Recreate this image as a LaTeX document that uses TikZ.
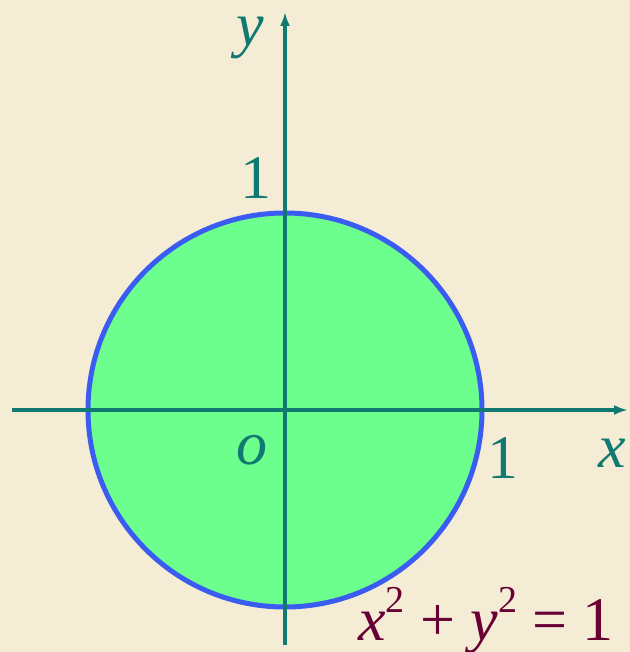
\documentclass[tikz,border=0pt]{standalone}
\usepackage{fontspec}
\setmainfont{Liberation Serif}
\usetikzlibrary{arrows.meta,positioning}
\definecolor{paper}{RGB}{245,236,214}
\definecolor{axisteal}{RGB}{16,122,114}
\definecolor{rimblue}{RGB}{58,92,240}
\definecolor{diskgreen}{RGB}{108,255,142}
\definecolor{eqplum}{RGB}{105,0,52}
\newcommand{\sqr}{\raisebox{0.45em}{\fontsize{19}{19}\selectfont 2}}

\begin{document}
\begin{tikzpicture}[
  x=0.5pt, y=-0.5pt,
  axisline/.style={
    draw=axisteal,
    line width=1.6pt,
    -{Latex[length=7pt,width=5pt]}
  },
  axislabel/.style={
    text=axisteal,
    font=\fontsize{31}{31}\selectfont,
    inner sep=0pt
  }
]
\fill[paper] (0,0) rectangle (630,652);
\useasboundingbox (0,0) rectangle (630,652);
% unit disk
\coordinate (o) at (285,410);
\filldraw[fill=diskgreen,draw=rimblue,line width=2.5pt] (o) circle[radius=197];
% axes
\coordinate (xs) at (12,410);
\coordinate (xe) at (628,410);
\coordinate (ys) at (285,645);
\coordinate (ye) at (285,12);
\draw[axisline] (xs) -- (xe);
\draw[axisline] (ys) -- (ye);
% labels
\node[axislabel] (ylab) at (250,38) {\textit{y}};
\node[axislabel] (xlab) at (612,453) {\textit{x}};
\node[axislabel] (olab) at (252,450) {\textit{o}};
\node[axislabel] (yone) at (256,178) {1};
\node[axislabel] (xone) at (503,458) {1};
\node[text=eqplum,font=\fontsize{31}{31}\selectfont,inner sep=0pt,anchor=base]
  (eq) at (486,640) {\textit{x}\sqr\ + \textit{y}\sqr\ = 1};
\end{tikzpicture}
\end{document}
